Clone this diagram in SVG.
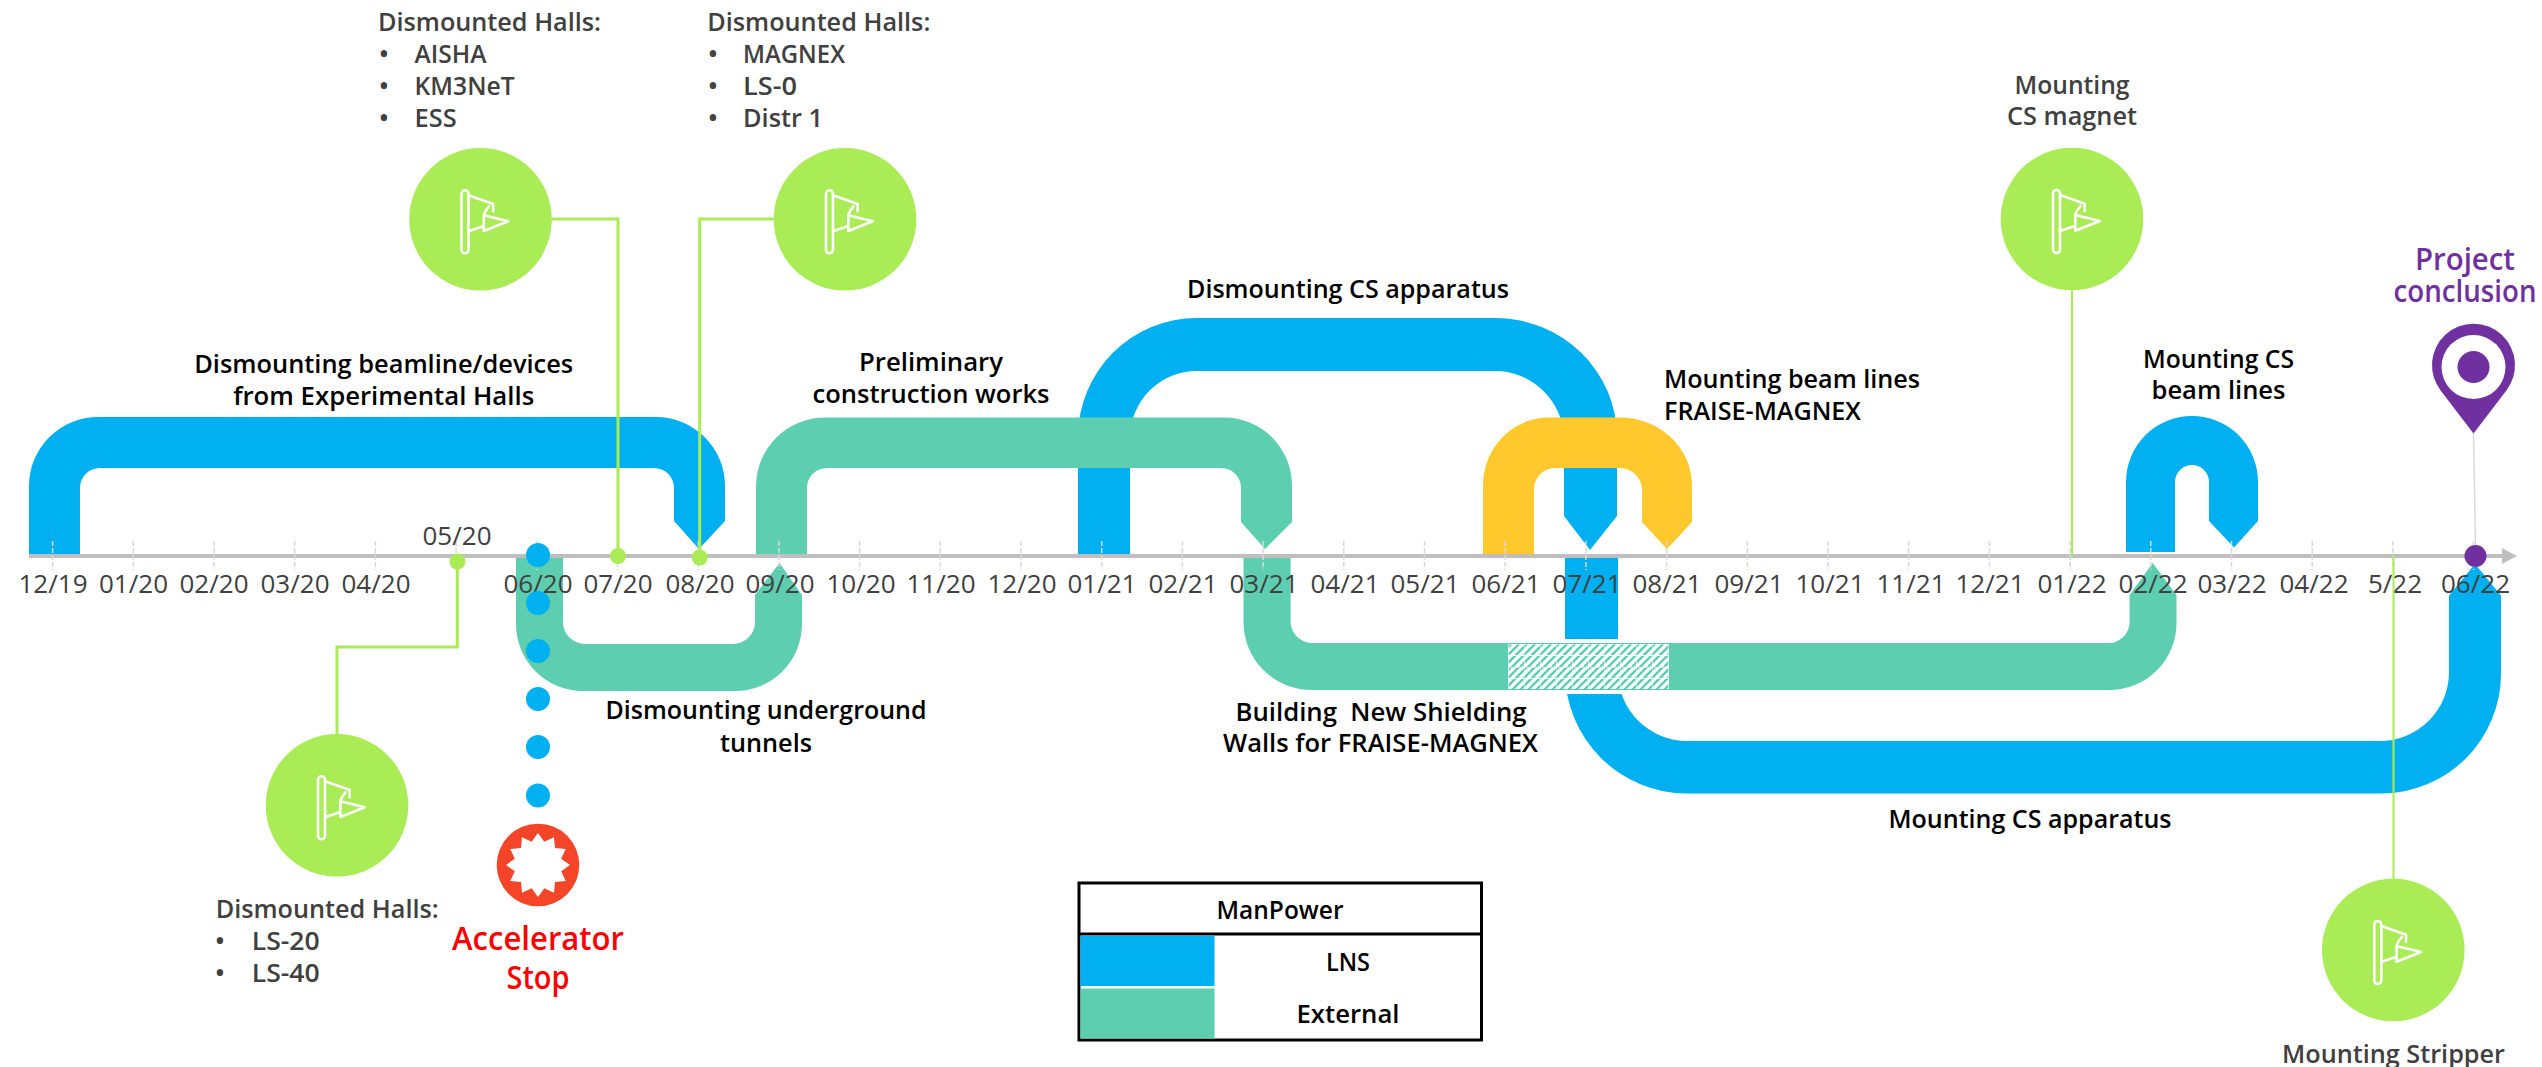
<svg xmlns="http://www.w3.org/2000/svg" width="2542" height="1067" viewBox="0 0 2542 1067">
<style>
text{font-family:"Open Sans","Noto Sans","Liberation Sans",sans-serif;}
.tick{font-size:26px;fill:#404040;text-anchor:middle;}
.lbl{font-size:26px;font-weight:600;fill:#000;text-anchor:middle;}
.lbs{font-size:26px;font-weight:600;fill:#000;}
.note{font-size:26px;font-weight:600;fill:#404040;}
.notec{font-size:26px;font-weight:600;fill:#404040;text-anchor:middle;}
.blue{fill:#00B0F0;}.green{fill:#5DCFB0;}.yellow{fill:#FFC82C;}
.circ{fill:#AAEC55;}
.conn{fill:none;stroke:#AAEC55;stroke-width:3;}
.conn2{fill:none;stroke:#AAEC55;stroke-width:2;}
.tk{stroke:#D9D9D9;stroke-width:1.5;stroke-dasharray:5 2;}
.flag{fill:none;stroke:#fff;stroke-width:2.6;stroke-linejoin:round;stroke-linecap:round;}
</style>
<defs>
<g id="flag">
<rect class="flag" x="-19" y="-29" width="7" height="63" rx="3.5"/>
<path class="flag" d="M-12,-24 L12.700,-15.300 V-8 M8.500,-13 Q5,-9 3.500,-5 M3.300,-4 L27.700,2 L3.300,11.700 Z M-12,12 L3.300,6.700"/>
</g>
<pattern id="hatch" patternUnits="userSpaceOnUse" x="1508" y="644" width="16" height="23">
<rect width="16" height="23" fill="#fff"/>
<path d="M-4,7 L7,-4 M-4,15 L15,-4 M-4,23 L23,-4 M4,23 L23,4 M12,23 L23,12 M-4,31 L7,20 M20,23 L27,16" stroke="#5DCFB0" stroke-width="2.400"/>
<path d="M0,0 V23 M0,0 H16 M0,11.500 H16" stroke="#fff" stroke-width="1.200"/>
</pattern>
</defs>
<rect width="2542" height="1067" fill="#fff"/>

<g id="phases">
<path id="phase-dismount-cs" class="blue" d="M1078,554 V437 A119,119 0 0 1 1197,318 H1495 A122,119 0 0 1 1617,437 V516 L1590,550 L1564,516 V440 A69,69 0 0 0 1495,371 H1197 A67,67 0 0 0 1130,438 V554 Z"/>
<path id="phase-beamlines" class="blue" d="M29,554 V486 A69,69 0 0 1 98,417 H656 A69,69 0 0 1 725,486 V521 L699,549 L674,521 V488 A20,20 0 0 0 654,468 H100 A20,20 0 0 0 80,488 V554 Z"/>
<path id="phase-prelim" class="green" d="M756,554 V486 A69,69 0 0 1 825,417.500 H1224 A68,68 0 0 1 1292,486 V522 L1265,549 L1241,522 V488 A20,20 0 0 0 1221,468 H827 A20,20 0 0 0 807,488 V554 Z"/>
<path id="phase-fraise" class="yellow" d="M1483,554 V486 A66,68 0 0 1 1549,417.500 H1620 A72,68 0 0 1 1692,486 V522 L1667,549 L1642,522 V490 A22,22 0 0 0 1620,468 H1555 A21,21 0 0 0 1534,489 V554 Z"/>
<path id="phase-mount-beam" class="blue" d="M2126,552 V482 A66,66 0 0 1 2258,482 V521 L2234,547.500 L2209,521 V482 A17,17 0 0 0 2175,482 V552 Z"/>
<path id="phase-mount-cs" class="blue" d="M1565,558 V672 A122,122 0 0 0 1687,793.500 H2381 A120,120 0 0 0 2501,673 V595.500 L2475,564 L2449,595.500 V672 A69,69 0 0 1 2380,741 H1687 A69,69 0 0 1 1618,672 V558 Z"/>
<path id="phase-tunnels" class="green" d="M516,557.500 V624 A67,67 0 0 0 583,691 H735 A67,67 0 0 0 802,624 V595 L779.500,563 L755,595 V622 A22,22 0 0 1 733,644 H585 A22,22 0 0 1 563,622 V557.500 Z"/>
<rect x="1558" y="639" width="67" height="55" fill="#fff"/>
<path id="phase-walls" class="green" d="M1243.500,557.500 V622 A68,68 0 0 0 1312,690 H2109 A67,67 0 0 0 2176.500,623 V595 L2152.700,563 L2129.600,595 V622 A21,21 0 0 1 2108.600,643 H1312 A21.500,21.500 0 0 1 1290.600,621 V557.500 Z"/>
<rect id="phase-walls-hatch" x="1508" y="644" width="161" height="45" fill="url(#hatch)"/>
</g>

<g id="axis">
<path d="M29,556 H2503" stroke="#BFBFBF" stroke-width="4" fill="none"/>
<path d="M2502,548 L2517,556 L2502,564 Z" fill="#BFBFBF"/>
<path class="tk" d="M52.600,541V570M133.300,541V570M214,541V570M294.700,541V570M375.400,541V570M456.100,541V570M536.800,541V570M617.500,541V570M698.200,541V570M778.900,541V570M859.600,541V570M940.300,541V570M1021,541V570M1101.700,541V570M1182.400,541V570M1263.100,541V570M1343.800,541V570M1424.500,541V570M1505.200,541V570M1585.900,541V570M1666.600,541V570M1747.300,541V570M1828,541V570M1908.700,541V570M1989.400,541V570M2070.100,541V570M2150.800,541V570M2231.500,541V570M2312.200,541V570M2392.900,541V570M2473.600,541V570"/>
<g class="ticks">
<text class="tick" x="53" y="593">12/19</text><text class="tick" x="133.500" y="593">01/20</text><text class="tick" x="214" y="593">02/20</text><text class="tick" x="295" y="593">03/20</text><text class="tick" x="376" y="593">04/20</text>
<text class="tick" x="457" y="545">05/20</text>
<text class="tick" x="538" y="593">06/20</text><text class="tick" x="618" y="593">07/20</text><text class="tick" x="700" y="593">08/20</text><text class="tick" x="780" y="593">09/20</text><text class="tick" x="861" y="593">10/20</text><text class="tick" x="941" y="593">11/20</text><text class="tick" x="1022" y="593">12/20</text><text class="tick" x="1102" y="593">01/21</text><text class="tick" x="1183" y="593">02/21</text><text class="tick" x="1264" y="593">03/21</text><text class="tick" x="1345" y="593">04/21</text><text class="tick" x="1425" y="593">05/21</text><text class="tick" x="1506" y="593">06/21</text><text class="tick" x="1587" y="593">07/21</text><text class="tick" x="1667" y="593">08/21</text><text class="tick" x="1749" y="593">09/21</text><text class="tick" x="1830" y="593">10/21</text><text class="tick" x="1911" y="593">11/21</text><text class="tick" x="1990" y="593">12/21</text><text class="tick" x="2072" y="593">01/22</text><text class="tick" x="2153" y="593">02/22</text><text class="tick" x="2232" y="593">03/22</text><text class="tick" x="2314" y="593">04/22</text><text class="tick" x="2395" y="593">5/22</text><text class="tick" x="2475.500" y="593">06/22</text>
</g>
</g>

<g id="connectors">
<path class="conn" d="M551,219 H618 V556"/>
<path class="conn" d="M774,219 H699.700 V557"/>
<path class="conn" d="M337,734 V647 H457.300 V561"/>
<path class="conn2" d="M2072,290 V556"/>
<path class="conn2" d="M2393.500,879 V556"/>
<path d="M2473.500,433 L2475.500,545" stroke="#D9D9D9" stroke-width="1.500" fill="none"/>
<circle class="circ" cx="618" cy="556" r="8"/>
<circle class="circ" cx="699.700" cy="557.500" r="8"/>
<circle class="circ" cx="457.500" cy="561.500" r="8"/>
</g>

<g id="stop-dots" class="blue">
<circle cx="538" cy="555" r="12"/><circle cx="538" cy="603" r="12"/><circle cx="538" cy="651" r="12"/><circle cx="538" cy="699" r="12"/><circle cx="538" cy="747" r="12"/><circle cx="538" cy="795.500" r="12"/>
</g>

<g id="node-halls-1"><circle class="circ" cx="480.500" cy="219.300" r="71.300"/><use href="#flag" x="480.500" y="219.300"/>
<text class="note" x="378" y="31" textLength="223" lengthAdjust="spacingAndGlyphs">Dismounted Halls:</text>
<text class="note" x="379" y="63">•</text><text class="note" x="414.600" y="63" textLength="72" lengthAdjust="spacingAndGlyphs">AISHA</text>
<text class="note" x="379" y="95">•</text><text class="note" x="414.600" y="95" textLength="100" lengthAdjust="spacingAndGlyphs">KM3NeT</text>
<text class="note" x="379" y="127">•</text><text class="note" x="414.600" y="127" textLength="42" lengthAdjust="spacingAndGlyphs">ESS</text>
</g>
<g id="node-halls-2"><circle class="circ" cx="845" cy="219.300" r="71.300"/><use href="#flag" x="845" y="219.300"/>
<text class="note" x="707.300" y="31" textLength="223" lengthAdjust="spacingAndGlyphs">Dismounted Halls:</text>
<text class="note" x="708" y="63">•</text><text class="note" x="743" y="63" textLength="102" lengthAdjust="spacingAndGlyphs">MAGNEX</text>
<text class="note" x="708" y="95">•</text><text class="note" x="743" y="95" textLength="54" lengthAdjust="spacingAndGlyphs">LS-0</text>
<text class="note" x="708" y="127">•</text><text class="note" x="743" y="127" textLength="80" lengthAdjust="spacingAndGlyphs">Distr 1</text>
</g>
<g id="node-halls-3"><circle class="circ" cx="337" cy="805.300" r="71.300"/><use href="#flag" x="337" y="805.300"/>
<text class="note" x="215.700" y="918" textLength="223" lengthAdjust="spacingAndGlyphs">Dismounted Halls:</text>
<text class="note" x="215" y="950">•</text><text class="note" x="251.700" y="950" textLength="68" lengthAdjust="spacingAndGlyphs">LS-20</text>
<text class="note" x="215" y="982">•</text><text class="note" x="251.700" y="982" textLength="68" lengthAdjust="spacingAndGlyphs">LS-40</text>
</g>
<g id="node-cs-magnet"><circle class="circ" cx="2072" cy="219" r="71.300"/><use href="#flag" x="2072" y="219"/>
<text class="notec" x="2072" y="93.500" textLength="115" lengthAdjust="spacingAndGlyphs">Mounting</text><text class="notec" x="2072" y="125" textLength="130" lengthAdjust="spacingAndGlyphs">CS magnet</text>
</g>
<g id="node-stripper"><circle class="circ" cx="2393.300" cy="950" r="71.300"/><use href="#flag" x="2393.300" y="950"/>
<text class="notec" x="2393.500" y="1063" textLength="223" lengthAdjust="spacingAndGlyphs">Mounting Stripper</text>
</g>

<g id="node-stop">
<circle cx="538" cy="865" r="41.300" fill="#F44528"/>
<polygon fill="#fff" points="538,833 544.300,841.800 554,837.300 555,848 565.700,849 561.200,858.700 570,865 561.200,871.300 565.700,881 555,882 554,892.700 544.300,888.200 538,897 531.700,888.200 522,892.700 521,882 510.300,881 514.800,871.300 506,865 514.800,858.700 510.300,849 521,848 522,837.300 531.700,841.800"/>
<text x="538" y="950" font-size="33" font-weight="600" fill="#FF0000" text-anchor="middle" textLength="172" lengthAdjust="spacingAndGlyphs">Accelerator</text>
<text x="538" y="989" font-size="33" font-weight="600" fill="#FF0000" text-anchor="middle" textLength="63" lengthAdjust="spacingAndGlyphs">Stop</text>
</g>

<g id="node-conclusion">
<path fill="#7030A0" d="M2473.500,433.500 L2441,391 A41.500,41.500 0 1 1 2506,391 Z"/>
<circle cx="2473.500" cy="367" r="32" fill="#fff"/><circle cx="2473.500" cy="367" r="16" fill="#7030A0"/>
<circle cx="2475.500" cy="556" r="11" fill="#7030A0"/>
<text x="2465" y="269.500" font-size="30" font-weight="600" fill="#7030A0" text-anchor="middle" textLength="100" lengthAdjust="spacingAndGlyphs">Project</text>
<text x="2465" y="301.500" font-size="30" font-weight="600" fill="#7030A0" text-anchor="middle" textLength="143" lengthAdjust="spacingAndGlyphs">conclusion</text>
</g>

<g id="labels">
<text class="lbl" x="383.700" y="372.500" textLength="379" lengthAdjust="spacingAndGlyphs">Dismounting beamline/devices</text>
<text class="lbl" x="383.700" y="405" textLength="301" lengthAdjust="spacingAndGlyphs">from Experimental Halls</text>
<text class="lbl" x="931" y="370.500" textLength="144" lengthAdjust="spacingAndGlyphs">Preliminary</text>
<text class="lbl" x="931" y="403" textLength="237" lengthAdjust="spacingAndGlyphs">construction works</text>
<text class="lbl" x="1348" y="298" textLength="322" lengthAdjust="spacingAndGlyphs">Dismounting CS apparatus</text>
<text class="lbs" x="1664" y="388" textLength="256" lengthAdjust="spacingAndGlyphs">Mounting beam lines</text>
<text class="lbs" x="1664" y="420" textLength="197" lengthAdjust="spacingAndGlyphs">FRAISE-MAGNEX</text>
<text class="lbl" x="2218.500" y="367.500" textLength="151" lengthAdjust="spacingAndGlyphs">Mounting CS</text>
<text class="lbl" x="2218.500" y="399" textLength="134" lengthAdjust="spacingAndGlyphs">beam lines</text>
<text class="lbl" x="766" y="719" textLength="321" lengthAdjust="spacingAndGlyphs">Dismounting underground</text>
<text class="lbl" x="766" y="752" textLength="92" lengthAdjust="spacingAndGlyphs">tunnels</text>
<text class="lbl" x="1381" y="720.500" xml:space="preserve" textLength="291" lengthAdjust="spacingAndGlyphs">Building  New Shielding</text>
<text class="lbl" x="1380.500" y="752" textLength="315" lengthAdjust="spacingAndGlyphs">Walls for FRAISE-MAGNEX</text>
<text class="lbl" x="2030" y="828" textLength="283" lengthAdjust="spacingAndGlyphs">Mounting CS apparatus</text>
</g>

<g id="legend">
<rect x="1079" y="883" width="402.500" height="157" fill="#fff" stroke="#000" stroke-width="3"/>
<path d="M1079,934 H1481.500" stroke="#000" stroke-width="3"/>
<rect class="blue" x="1080.500" y="936" width="134" height="50"/>
<rect class="green" x="1080.500" y="988.500" width="134" height="50"/>
<text class="lbl" x="1280" y="919" textLength="127" lengthAdjust="spacingAndGlyphs">ManPower</text>
<text class="lbl" x="1348" y="970.500" textLength="44" lengthAdjust="spacingAndGlyphs">LNS</text>
<text class="lbl" x="1348" y="1023" textLength="103" lengthAdjust="spacingAndGlyphs">External</text>
</g>
</svg>
